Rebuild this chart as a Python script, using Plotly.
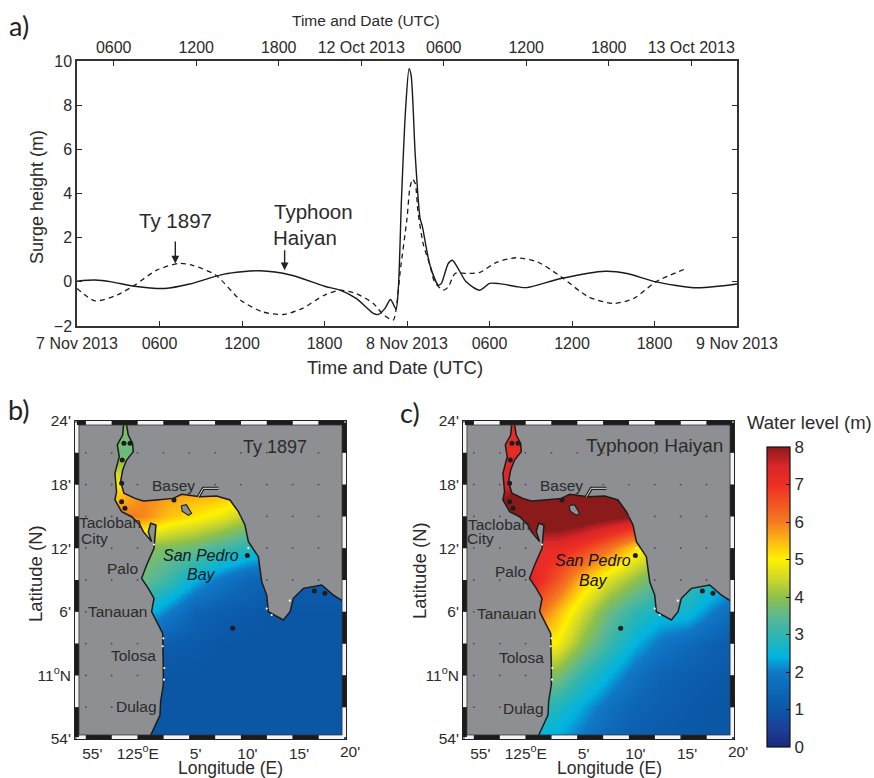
import plotly.graph_objects as go

# ---------- panel a data ----------
haiyan_h = [0,1.3,2.5,4.2,6.4,8.2,10.7,13.3,15.6,18,19.13,20.3,21.55,21.9,22.4,22.8,23.2,23.37,23.6,23.9,24.15,24.3,24.6,24.95,25.1,25.67,26.28,26.5,27,27.3,27.65,28.3,29.3,30,30.7,32.1,32.7,35.2,38.4,40,42.1,45.1,48]
haiyan_m = [0.03,0.08,0,-0.2,-0.3,-0.1,0.35,0.5,0.3,-0.2,-0.38,-0.75,-1.43,-1.48,-1.2,-0.8,-1.23,-0.3,3.77,7.85,9.65,9.35,5.73,2.87,2.56,0.75,-0.15,-0.07,0.83,0.98,0.68,0,-0.38,-0.07,-0.08,-0.23,-0.26,0.15,0.48,0.38,0,-0.27,-0.1]
ty1897_h = [0,1.3,2.9,4.2,5.8,7.4,8.4,10.1,11.9,13.5,15,16.4,18,19.13,20.3,21.55,22.3,23,23.25,23.5,24,24.2,24.4,24.6,24.8,25.2,25.67,26,26.64,27,27.5,28.3,29.3,30.5,31.9,33.5,35.2,37.2,39,40.5,42.1,44.3]
ty1897_m = [-0.3,-0.86,-0.6,-0.15,0.53,0.83,0.75,0.3,-0.83,-1.36,-1.48,-1.2,-0.6,-0.38,-0.53,-0.98,-1.5,-1.73,-1.05,0.45,2.87,4.2,4.65,4.45,3.17,1.66,0.76,0,-0.38,-0.23,0.38,0.38,0.43,0.88,1.09,0.9,0.23,-0.68,-0.98,-0.75,0,0.6]
bottom_ticks = [0,6,12,18,24,30,36,42,48]
bottom_labels = ["7 Nov 2013","0600","1200","1800","8 Nov 2013","0600","1200","1800","9 Nov 2013"]
top_ticks = [6,12,18,24,30,36,42,48]
top_labels = ["0600","1200","1800","12 Oct 2013","0600","1200","1800","13 Oct 2013"]
surge_ticks = [-2,0,2,4,6,8,10]

# ---------- map data (minutes from 125E, minutes from 11N) ----------
west_lon = [0.48,1.23,1.55,1.61,1.87,1.87,1.81,1.81,1.23,0.74,0.97,0.42,-0.23,0.26,0.97,1.16,0.65,0.42,0.74,-0.06,-0.39,-1.19,-2.16,-2.81,-2.65,-2.81,-2.39,-2.58,-2.06,-1.94]
west_lat = [-6,-4.36,-3.74,-2.48,-0.91,0.67,2.87,3.97,5.07,6.01,7.27,8.21,9.16,10.42,11.99,14.19,14.35,13.56,12.62,13.56,14.19,14.97,15.45,16.55,17.33,19.06,20.64,21.74,22.68,24]
east_lon = [-1.74,-1.52,-1.10,-1.03,-1.68,-2.06,-2.26,-1.94,-0.87,-0.06,1.23,2.84,3.65,5.42,7.03,8.32,9.13,9.77,10.10,11.06,11.39,11.87,12.03,13.48,14.13,14.45,15.42,17.19,18.32,19.23,19.54]
east_lat = [24,22.68,21.89,21.11,20.32,19.38,18.28,17.18,16.70,16.45,16.55,16.70,17.08,16.86,16.92,16.55,15.45,14.19,12.62,11.20,8.84,7.58,6.01,5.23,6.01,7.27,8.21,8.53,7.58,7.02,7.02]
isle_lon = [3.6,4.1,4.6,4.3,3.7,3.6]
isle_lat = [16.0,16.1,15.3,15.1,15.5,16.0]
river_lon = [5.26,5.74,7.19]
river_lat = [16.86,17.65,17.65]
islet_lon = [10.0,8.58,16.48,17.5,-1.94,-1.35,-2.16,-1.84,-2.16,-2.1,2.9]
islet_lat = [11.3,4.44,7.96,7.74,21.89,21.89,16.39,15.76,18.12,20.32,16.55]
speck_lon = [1.87,1.81,1.97,1.94,11.87,12.35,10.1,14.1,0.97]
speck_lat = [3.5,2.75,0.7,-0.4,6.3,5.7,12,7.05,12.35]

grid_lon = [-5,-2.5,0,2.5,5,7.5,10,12.5,15,17.5,20]
grid_lat = [24,21,18,15,12,9,6,3,0,-3,-6]
level_ty1897 = [
 [3.9,3.9,3.9,3.9,5.7,5.7,5.7,5.7,5.7,5.7,5.7],
 [3.6,3.6,3.6,3.6,5.7,5.7,5.7,5.7,5.7,5.7,5.7],
 [5.0,5.0,5.9,5.9,5.8,5.8,5.7,5.7,5.7,5.7,5.7],
 [6.1,6.1,5.9,5.4,5.1,4.8,4.3,4.0,4.0,4.0,4.0],
 [3.9,3.9,3.9,3.8,3.6,3.2,2.9,2.6,2.6,2.6,2.6],
 [3.6,3.6,3.6,3.1,2.4,1.9,1.5,1.3,1.2,1.2,1.2],
 [2.6,2.6,2.6,2.0,1.4,1.2,1.1,1.0,1.0,1.0,1.0],
 [1.4,1.4,1.4,1.2,1.1,1.0,1.0,1.0,1.0,1.0,1.0],
 [1.1,1.1,1.1,1.0,1.0,1.0,1.0,1.0,1.0,1.0,1.0],
 [1.0,1.0,1.0,1.0,1.0,1.0,1.0,1.0,1.0,1.0,1.0],
 [1.0,1.0,1.0,1.0,1.0,1.0,1.0,1.0,1.0,1.0,1.0]]
level_haiyan = [
 [7.2,7.2,7.2,7.2,7.9,7.9,7.9,7.9,7.9,7.9,7.9],
 [7.2,7.2,7.2,7.2,7.9,7.9,7.9,7.9,7.9,7.9,7.9],
 [7.5,7.5,8.6,8.6,8.6,8.6,8.6,8.6,8.6,8.6,8.6],
 [8.6,8.6,8.6,8.6,8.4,8.2,8.0,7.6,7.3,7.3,7.3],
 [7.2,7.2,7.2,7.2,6.8,6.1,5.2,4.6,4.6,4.6,4.6],
 [7.3,7.3,7.3,6.5,5.4,4.6,4.0,3.4,3.2,2.8,2.5],
 [6.6,6.6,6.4,5.5,4.5,3.6,3.0,2.6,2.6,2.0,1.5],
 [5.2,5.2,5.1,4.9,3.9,3.1,2.4,1.9,1.6,1.3,1.1],
 [4.0,4.0,4.0,3.8,3.0,2.4,1.8,1.4,1.2,1.1,1.0],
 [3.0,3.0,3.0,2.8,2.3,1.8,1.4,1.2,1.1,1.0,1.0],
 [2.5,2.5,2.5,2.3,1.9,1.4,1.2,1.1,1.05,1.0,1.0]]
lon_ticks = [-5,-0.6,5,10,15]
lon_labels = ["55'","125<sup>o</sup>E","5'","10'","15'"]
lat_ticks = [24,18,12,6,0,-6]
lat_labels = ["24'","18'","12'","6'","11<sup>o</sup>N","54'"]
frame_lon = [-6.48,-5.62,-3.12,-0.62,1.88,4.38,6.88,9.38,11.88,14.38,16.88,19.35]
frame_lat = [23.81,21,18,15,12,9,6,3,0,-3,-5.81]

colors = [[0,"#1a2a7a"],[0.0625,"#1b3f9a"],[0.125,"#0b57a6"],[0.25,"#1078c8"],[0.3,"#00b4e0"],[0.375,"#2fb5b0"],
          [0.4375,"#5fb890"],[0.5,"#8fc04a"],[0.5625,"#d0d82a"],[0.625,"#fff200"],[0.6875,"#fdb813"],[0.75,"#f47b20"],
          [0.875,"#ee2e24"],[0.9375,"#d9262a"],[1,"#8b1a1a"]]

W, H = 874, 778
INK = "#2b2b2b"
LAND = "#8d8f92"
TXT = "Liberation Sans"
def px(x): return x / W
def py(y): return 1 - y / H

def inside(x, y, poly):
    hit = False
    for (x1, y1), (x2, y2) in zip(poly, poly[1:] + poly[:1]):
        if (y1 > y) != (y2 > y) and x < x1 + (y - y1) * (x2 - x1) / (y2 - y1):
            hit = not hit
    return hit

fig = go.Figure()

# panel a
fig.add_trace(go.Scatter(x=haiyan_h, y=haiyan_m, mode="lines", line=dict(color="#1a1a1a", width=1.4, shape="spline", smoothing=0.7), xaxis="x", yaxis="y", showlegend=False))
fig.add_trace(go.Scatter(x=ty1897_h, y=ty1897_m, mode="lines", line=dict(color="#1a1a1a", width=1.3, dash="5px,4px", shape="spline", smoothing=0.7), xaxis="x", yaxis="y", showlegend=False))
fig.add_trace(go.Scatter(x=[6], y=[0], mode="markers", marker=dict(opacity=0), xaxis="x2", yaxis="y", showlegend=False, hoverinfo="skip"))

water = list(zip(west_lon, west_lat)) + list(zip(east_lon, east_lat)) + [(19.54, -6)]
dot_x, dot_y = [], []
for lo in frame_lon[1:-1]:
    for la in frame_lat[1:-1]:
        if not inside(lo, la, water):
            dot_x.append(lo); dot_y.append(la)

def map_panel(ax, z, scale):
    xa, ya = f"x{ax}", f"y{ax}"
    hm = dict(x=grid_lon, y=grid_lat, z=z, zmin=0, zmax=8, colorscale=colors, zsmooth="best", xaxis=xa, yaxis=ya, showscale=scale, hoverinfo="skip")
    if scale:
        hm["colorbar"] = dict(x=px(767), xanchor="left", y=py(597), yanchor="middle", thickness=23, thicknessmode="pixels",
                              len=300, lenmode="pixels", tickvals=list(range(9)), ticks="inside", ticklen=4, tickcolor="#111",
                              tickfont=dict(family=TXT, size=17, color=INK), outlinecolor="#111", outlinewidth=1.2, xpad=0, ypad=0)
    fig.add_trace(go.Heatmap(**hm))
    common = dict(xaxis=xa, yaxis=ya, showlegend=False, hoverinfo="skip")
    fig.add_trace(go.Scatter(x=west_lon + [-6.67, -6.67, 0.48], y=west_lat + [24.02, -6.02, -6.02], mode="none", fill="toself", fillcolor=LAND, **common))
    fig.add_trace(go.Scatter(x=east_lon + [19.54, -1.74], y=east_lat + [24.02, 24.02], mode="none", fill="toself", fillcolor=LAND, **common))
    for lo, la in ((west_lon, west_lat), (east_lon, east_lat)):
        fig.add_trace(go.Scatter(x=lo, y=la, mode="lines", line=dict(color="#1c1c1c", width=1.5), **common))
    fig.add_trace(go.Scatter(x=river_lon, y=river_lat, mode="lines", line=dict(color="#1c1c1c", width=3.2), **common))
    fig.add_trace(go.Scatter(x=river_lon, y=river_lat, mode="lines", line=dict(color="#e8e8e8", width=1), **common))
    fig.add_trace(go.Scatter(x=isle_lon, y=isle_lat, mode="lines", fill="toself", fillcolor=LAND, line=dict(color="#1c1c1c", width=1.1), **common))
    fig.add_trace(go.Scatter(x=islet_lon, y=islet_lat, mode="markers", marker=dict(color="#1c1c1c", size=5), **common))
    fig.add_trace(go.Scatter(x=speck_lon, y=speck_lat, mode="markers", marker=dict(color="#ffffff", size=2.2), **common))
    fig.add_trace(go.Scatter(x=dot_x, y=dot_y, mode="markers", marker=dict(color="#4d4d4d", size=1.8), **common))
    # alternating map frame
    bx, by, wx, wy = [], [], [], []
    for side, (pts, fixed, horiz, first_black) in enumerate(((frame_lon, 23.81, True, True), (frame_lon, -5.81, True, False),
                                                            (frame_lat, -6.48, False, False), (frame_lat, 19.35, False, True))):
        for i in range(len(pts) - 1):
            tx, ty = (bx, by) if (i % 2 == 0) == first_black else (wx, wy)
            if horiz:
                tx += [pts[i], pts[i + 1], None]; ty += [fixed, fixed, None]
            else:
                tx += [fixed, fixed, None]; ty += [pts[i], pts[i + 1], None]
    fig.add_trace(go.Scatter(x=wx, y=wy, mode="lines", line=dict(color="#f4f4f4", width=4), **common))
    fig.add_trace(go.Scatter(x=bx, y=by, mode="lines", line=dict(color="#1b1b1b", width=4), **common))
    fig.add_trace(go.Scatter(x=[-6.29, 19.16, 19.16, -6.29, -6.29], y=[23.62, 23.62, -5.62, -5.62, 23.62], mode="lines", line=dict(color="#333", width=0.8), **common))

map_panel(3, level_ty1897, False)
map_panel(4, level_haiyan, True)

tickf = dict(family=TXT, size=16, color=INK)
mapf = dict(family=TXT, size=15.5, color=INK)
layout = dict(
    width=W, height=H, margin=dict(l=0, r=0, t=0, b=0, autoexpand=False), paper_bgcolor="white", plot_bgcolor="white", showlegend=False,
    xaxis=dict(domain=[px(77), px(737)], range=[0, 48], anchor="y", tickvals=bottom_ticks, ticktext=bottom_labels, ticks="inside", ticklen=5,
               tickcolor=INK, showline=True, linecolor="#333", linewidth=1.5, showgrid=False, zeroline=False, tickfont=tickf, ticklabelstandoff=2),
    xaxis2=dict(domain=[px(77), px(737)], range=[3.33, 51.33], anchor="y", overlaying="x", side="top", tickvals=top_ticks, ticktext=top_labels, ticks="inside", ticklen=5,
                tickcolor=INK, showline=True, linecolor="#333", linewidth=1.5, showgrid=False, zeroline=False, tickfont=tickf),
    yaxis=dict(domain=[py(326), py(61)], range=[-2, 10], anchor="x", tickvals=surge_ticks, ticks="inside", ticklen=5, tickcolor=INK,
               showline=True, linecolor="#333", linewidth=1.5, mirror="ticks", showgrid=False, zeroline=False, tickfont=tickf),
)
for n, x0, x1 in ((3, 75, 346), (4, 463, 734)):
    layout[f"xaxis{n}"] = dict(domain=[px(x0), px(x1)], range=[-6.67, 19.54], anchor=f"y{n}", tickvals=lon_ticks, ticktext=lon_labels, ticks="",
                               showline=True, mirror=True, linecolor="#222", linewidth=1, showgrid=False, zeroline=False, tickfont=mapf)
    layout[f"yaxis{n}"] = dict(domain=[py(739), py(421)], range=[-6, 24], anchor=f"x{n}", tickvals=lat_ticks, ticktext=lat_labels, ticks="",
                               showline=True, mirror=True, linecolor="#222", linewidth=1, showgrid=False, zeroline=False, tickfont=mapf)
fig.update_layout(**layout)

def label(text, x, y, size=16, color=INK, family=TXT, angle=0):
    fig.add_annotation(text=text, x=px(x), y=py(y), xref="paper", yref="paper", showarrow=False, xanchor="center", yanchor="middle",
                       font=dict(family=family, size=size, color=color), textangle=angle)

label("a)", 19, 25, 27, "#222", "Lato")
label("b)", 19, 409, 27, "#222", "Lato")
label("c)", 410, 412, 27, "#222", "Lato")
label("Time and Date (UTC)", 366, 20, 15.5)
label("Time and Date (UTC)", 395, 367, 18.5)
label("Surge height (m)", 37, 197, 18, angle=-90)
label("Ty 1897", 175, 220, 20.5)
label("Typhoon", 313, 211, 20.5)
label("Haiyan", 305, 237, 20.5)
for ax_x, y0, y1 in ((7.15, 1.89, 0.83), (15.1, 1.5, 0.53)):
    fig.add_annotation(x=ax_x, y=y1, ax=ax_x, ay=y0, xref="x", yref="y", axref="x", ayref="y", showarrow=True, arrowhead=2, arrowsize=1.1, arrowwidth=1.4, arrowcolor="#222", text="")

label("Ty 1897", 275, 447, 18)
label("Typhoon Haiyan", 654, 445, 19)
label("20'", 350, 751, 15.5)
label("20'", 738, 751, 15.5)
for name, bx_, by_, cx_, cy_ in (("Basey", 173, 486, 561, 486), ("Tacloban", 110, 522, 499, 524), ("City", 94, 538, 480, 538), ("Palo", 122, 568, 511, 571),
                                 ("Tanauan", 117, 611, 506, 613), ("Tolosa", 133, 655, 521.5, 657), ("Dulag", 136, 706, 523.5, 708)):
    label(name, bx_, by_, 15.5)
    label(name, cx_, cy_, 15.5)
for x_, y_, x2_, y2_, t in ((201, 555, 593, 560, "San Pedro"), (201, 574, 593, 580, "Bay")):
    label(f"<i>{t}</i>", x_, y_, 16, "#0a1a20")
    label(f"<i>{t}</i>", x2_, y2_, 16, "#111")
for x_ in (231, 609):
    label("Longitude (E)", x_, 767.5, 17.5)
label("Latitude (N)", 35, 574, 18.5, angle=-90)
label("Latitude (N)", 419, 571, 18.5, angle=-90)
label("Water level (m)", 809, 422, 18.5)

fig.write_html("out.html", post_script="document.body.style.margin='0';", config={"displayModeBar": False})
